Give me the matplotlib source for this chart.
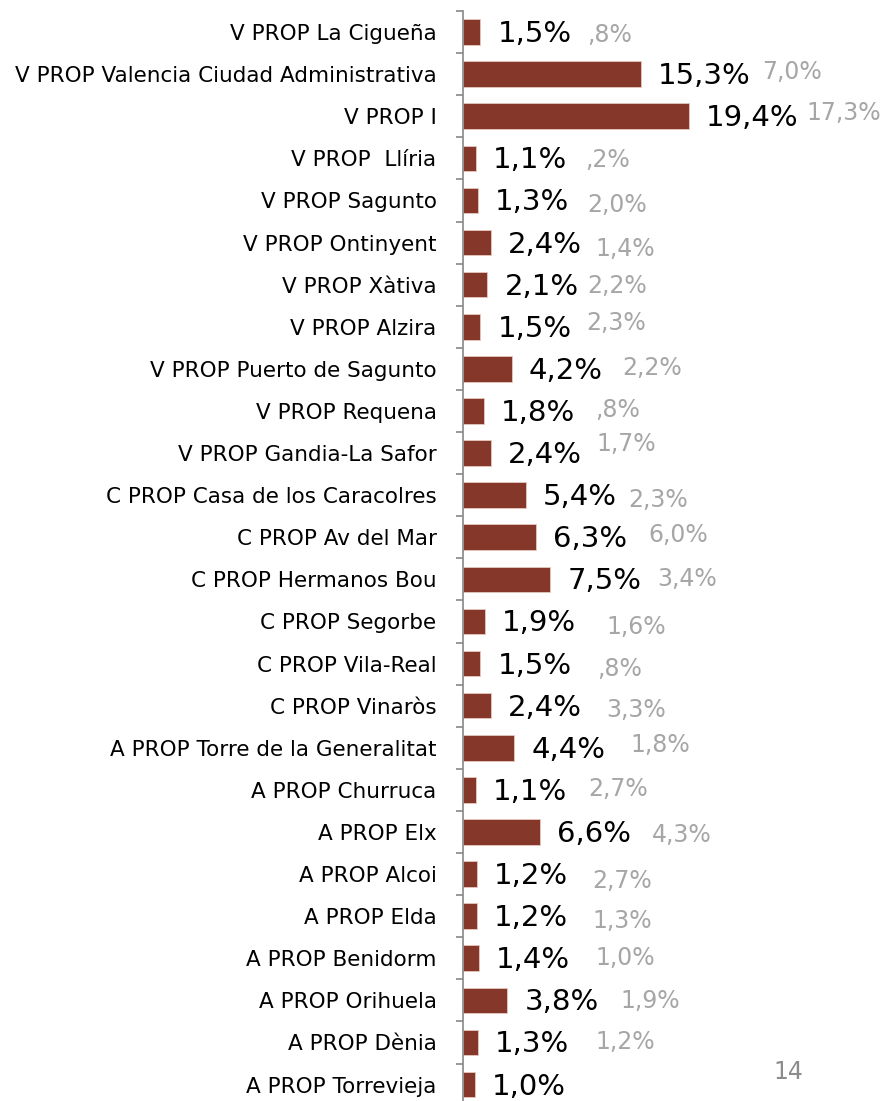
import matplotlib.pyplot as plt
import numpy as np

plt.rcParams["font.family"] = ["DejaVu Sans"]

oficinas = [
    "V PROP La Cigueña",
    "V PROP Valencia Ciudad Administrativa",
    "V PROP I",
    "V PROP  Llíria",
    "V PROP Sagunto",
    "V PROP Ontinyent",
    "V PROP Xàtiva",
    "V PROP Alzira",
    "V PROP Puerto de Sagunto",
    "V PROP Requena",
    "V PROP Gandia-La Safor",
    "C PROP Casa de los Caracolres",
    "C PROP Av del Mar",
    "C PROP Hermanos Bou",
    "C PROP Segorbe",
    "C PROP Vila-Real",
    "C PROP Vinaròs",
    "A PROP Torre de la Generalitat",
    "A PROP Churruca",
    "A PROP Elx",
    "A PROP Alcoi",
    "A PROP Elda",
    "A PROP Benidorm",
    "A PROP Orihuela",
    "A PROP Dènia",
    "A PROP Torrevieja",
]
actual = [1.5, 15.3, 19.4, 1.1, 1.3, 2.4, 2.1, 1.5, 4.2, 1.8, 2.4, 5.4, 6.3,
          7.5, 1.9, 1.5, 2.4, 4.4, 1.1, 6.6, 1.2, 1.2, 1.4, 3.8, 1.3, 1.0]
anterior = [0.8, 7.0, 17.3, 0.2, 2.0, 1.4, 2.2, 2.3, 2.2, 0.8, 1.7, 2.3, 6.0,
            3.4, 1.6, 0.8, 3.3, 1.8, 2.7, 4.3, 2.7, 1.3, 1.0, 1.9, 1.2, None]

# posicion manual de las etiquetas grises (px desde el final de la barra)
gris_dx = [107, 121, 117, 109, 109, 104, 100, 106, 110, 111, 105, 102, 112,
           107, 121, 117, 115, 116, 112, 112, 115, 115, 116, 113, 117, 0]
gris_dy = [3, -2, -3, 2, 5, 6, 1, -4, -1, -1, -9, 5, -2,
           0, 6, 5, 4, -3, -1, 3, 7, 5, 0, 1, 0, 0]


def fmt(v):
    s = f"{v:.1f}".replace(".", ",")
    if v < 1:
        s = s[1:]
    return s + "%"


dpi = 100
W, H = 887, 1101
fig = plt.figure(figsize=(W / dpi, H / dpi), dpi=dpi)
top = 11
alto = 26 * 42.1
ax = fig.add_axes([463 / W, 1 - (top + alto) / H, (W - 463) / W, alto / H])

y = np.arange(len(oficinas))
ax.barh(y, actual, height=0.61, color="#85372A", edgecolor="#E8C8C0",
        linewidth=0.6, zorder=2)
ax.set_xlim(0, (W - 463) / 11.65)
ax.set_ylim(len(oficinas) - 0.5, -0.5)

ax.set_yticks(y)
ax.set_yticklabels(oficinas, fontsize=15.5)
ax.tick_params(axis="y", which="major", length=0, pad=19)
ax.set_yticks(np.arange(len(oficinas) + 1) - 0.5, minor=True)
ax.tick_params(axis="y", which="minor", length=5, color="#888888", width=1.2)
ax.set_xticks([])
for lado in ["top", "right", "bottom"]:
    ax.spines[lado].set_visible(False)
ax.spines["left"].set_color("#888888")
ax.spines["left"].set_linewidth(1.2)

pt = 72 / dpi
for i, v in enumerate(actual):
    ax.annotate(fmt(v), (v, i), xytext=(17 * pt, -2 * pt),
                textcoords="offset points", ha="left", va="center",
                fontsize=21, color="black")
    a = anterior[i]
    if a is not None:
        ax.annotate(fmt(a), (v, i), xytext=(gris_dx[i] * pt, -gris_dy[i] * pt),
                    textcoords="offset points", ha="left", va="center",
                    fontsize=17, color="#A6A6A6")

fig.text(773 / W, 1 - 1072 / H, "14", fontsize=17, color="#8C8C8C",
         ha="left", va="center")

fig.savefig("out.png", dpi=dpi)
plt.close(fig)
